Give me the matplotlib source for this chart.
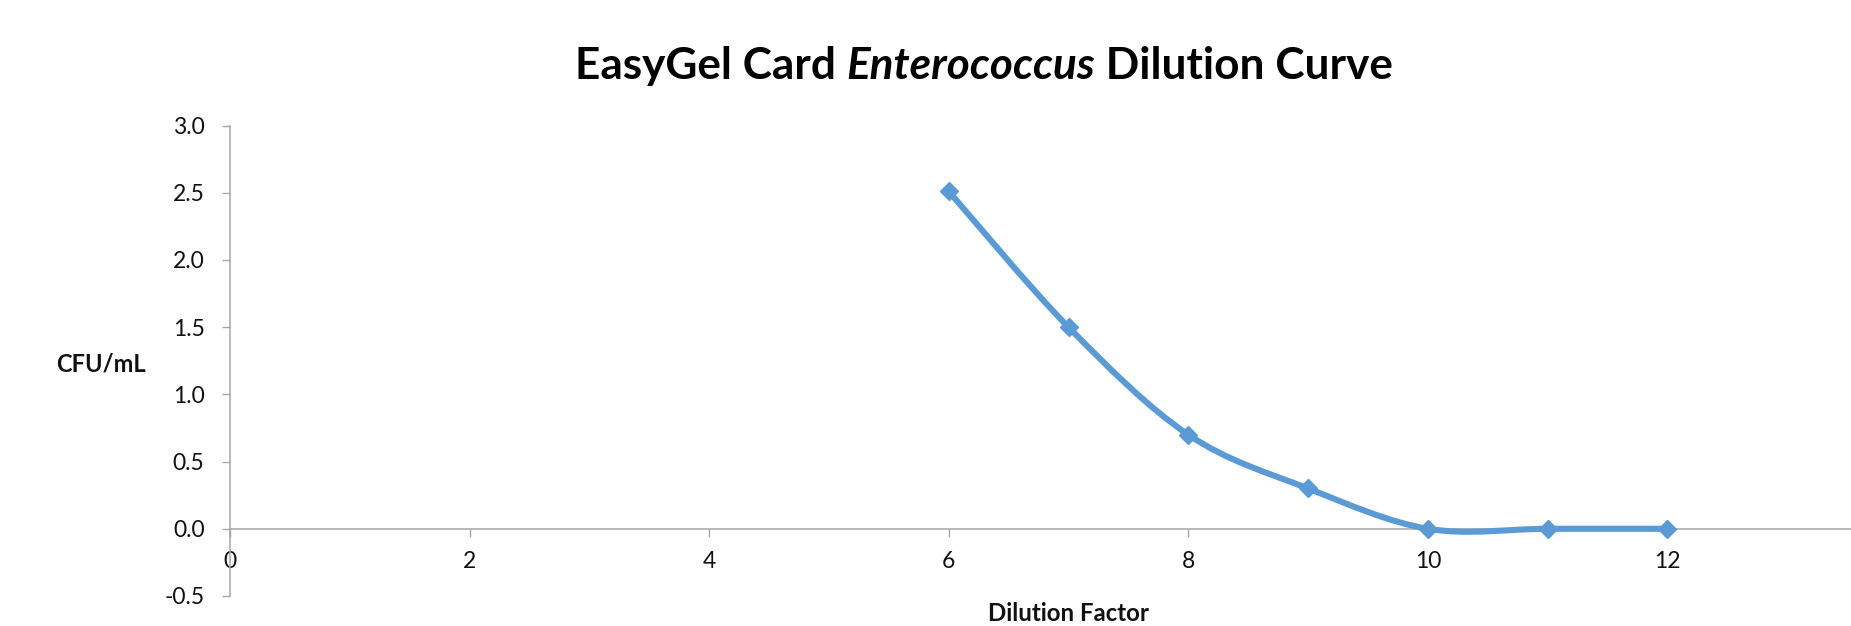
import numpy as np
import matplotlib
matplotlib.use("Agg")
import matplotlib.pyplot as plt
from matplotlib.path import Path
from matplotlib.patches import PathPatch

# ---- data ----
dilution_factor = [6, 7, 8, 9, 10, 11, 12]
cfu_per_ml = [2.51, 1.50, 0.70, 0.30, 0.00, 0.00, 0.00]
x_ticks = [0, 2, 4, 6, 8, 10, 12]
y_ticks = [-0.5, 0.0, 0.5, 1.0, 1.5, 2.0, 2.5, 3.0]
title_parts = ["EasyGel Card ", "Enterococcus", " Dilution Curve"]
y_label = "CFU/mL"
x_label = "Dilution Factor"

LINE = "#5B9BD5"
AXC = "#A6A6A6"
FONT = "Lato"

W, H = 1851, 626
fig = plt.figure(figsize=(W / 100, H / 100), dpi=100)
ax = fig.add_axes([230 / W, 30 / H, (1907 - 230) / W, (596.5 - 126) / H])
ax.set_xlim(0, 14)
ax.set_ylim(-0.5, 3.0)

# Excel-style smoothed line (cubic Bezier through points)
pts = np.column_stack([dilution_factor, cfu_per_ml]).astype(float)
n = len(pts)
verts = [pts[0]]
codes = [Path.MOVETO]
for i in range(n - 1):
    p0 = pts[i - 1] if i > 0 else pts[i]
    p1 = pts[i]
    p2 = pts[i + 1]
    p3 = pts[i + 2] if i + 2 < n else pts[i + 1]
    c1 = p1 + (p2 - p0) / 6.0
    c2 = p2 - (p3 - p1) / 6.0
    verts += [c1, c2, p2]
    codes += [Path.CURVE4] * 3
ax.add_patch(PathPatch(Path(verts, codes), facecolor="none", edgecolor=LINE,
                       lw=4.4, capstyle="round", joinstyle="round", zorder=3))
ax.plot(dilution_factor, cfu_per_ml, linestyle="none", marker="D", ms=9.5,
        color=LINE, mec=LINE, zorder=4)

for s in ["top", "right"]:
    ax.spines[s].set_visible(False)
ax.spines["bottom"].set_position(("data", 0))
for s in ["left", "bottom"]:
    ax.spines[s].set_color(AXC)
    ax.spines[s].set_linewidth(1.1)

ax.set_xticks(x_ticks)
ax.set_yticks(y_ticks)
ax.set_yticklabels([f"{v:.1f}" for v in y_ticks])
ax.tick_params(axis="both", direction="out", length=5.8, width=1.0, color=AXC,
               labelcolor="#111111", labelsize=16.5)
ax.tick_params(axis="x", pad=10.5)
ax.tick_params(axis="y", pad=12.5)
for lab in ax.get_xticklabels() + ax.get_yticklabels():
    lab.set_fontfamily(FONT)

fig.text(101 / W, 1 - 364 / H, y_label, ha="center", va="center",
         fontsize=17, fontweight="bold", family=FONT, color="#111111")
fig.text(1068 / W, 1 - 625 / H, x_label, ha="center", va="bottom",
         fontsize=17.3, fontweight="bold", family=FONT, color="#111111")

# Title with italic middle part
fig.canvas.draw()
r = fig.canvas.get_renderer()
tsize = 31.8
styles = ["normal", "italic", "normal"]
texts = []
for part, st in zip(title_parts, styles):
    t = fig.text(0, 0, part, fontsize=tsize, fontweight="bold", style=st,
                 family=FONT, ha="left", va="baseline", color="#000000")
    texts.append(t)
widths = [t.get_window_extent(r).width for t in texts]
total = sum(widths)
x0 = 984 - total / 2
base = 1 - 79 / H
for t, w in zip(texts, widths):
    t.set_position((x0 / W, base))
    x0 += w

fig.savefig("out.png", dpi=100)
